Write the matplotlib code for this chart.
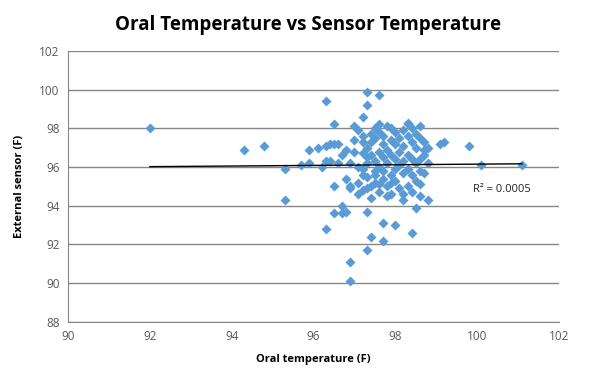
import matplotlib.pyplot as plt
import numpy as np

# oral temperature (F) vs external sensor reading (F)
oral = [
    92.0, 94.3, 94.8, 95.3, 95.3, 95.7, 95.9, 95.9, 96.1, 96.2,
    96.3, 96.3, 96.3, 96.4, 96.5, 96.6, 96.3, 96.4, 96.5, 96.5,
    96.5, 96.6, 96.7, 96.8, 96.7, 96.7, 96.8, 96.8, 96.9, 96.9,
    96.9, 96.9, 96.9, 97.0, 97.1, 97.2, 97.2, 97.2, 97.2, 97.3,
    97.3, 97.3, 97.3, 97.3, 97.4, 97.5, 97.5, 97.6, 97.6, 97.7,
    97.7, 97.9, 97.9, 98.0, 98.2, 98.2, 98.3, 98.3, 98.4, 98.5,
    98.8, 98.6, 98.7, 98.7, 98.5, 98.6, 99.1, 99.2, 99.8, 100.1,
    101.1,
    97.0, 97.0, 97.1, 97.1, 97.1, 97.2, 97.2, 97.2, 97.3, 97.3,
    97.3, 97.3, 97.4, 97.4, 97.4, 97.4, 97.4, 97.5, 97.5, 97.5,
    97.5, 97.6, 97.6, 97.6, 97.6, 97.6, 97.7, 97.7, 97.7, 97.7,
    97.7, 97.8, 97.8, 97.8, 97.8, 97.8, 97.9, 97.9, 97.9, 97.9,
    98.0, 98.0, 98.0, 98.0, 98.0, 98.1, 98.1, 98.1, 98.1, 98.2,
    98.2, 98.2, 98.2, 98.3, 98.3, 98.3, 98.3, 98.4, 98.4, 98.4,
    98.4, 98.4, 98.5, 98.5, 98.5, 98.6, 98.6, 98.6, 98.6, 98.7,
    98.7, 98.8, 98.8,
]
sensor = [
    98.0, 96.9, 97.1, 95.9, 94.3, 96.1, 96.2, 96.9, 97.0, 96.0,
    99.4, 92.8, 97.1, 97.2, 97.2, 97.2, 96.3, 96.3, 95.0, 93.6,
    98.2, 96.2, 96.6, 96.9, 94.0, 93.6, 93.7, 95.4, 95.0, 94.9,
    91.1, 90.1, 96.2, 98.1, 94.6, 95.6, 97.3, 97.6, 98.6, 96.5,
    93.7, 91.7, 99.2, 99.9, 92.4, 95.8, 95.2, 99.7, 98.2, 93.1,
    92.2, 95.2, 98.0, 93.0, 94.3, 94.6, 98.3, 98.2, 92.6, 93.9,
    94.3, 96.4, 96.9, 97.3, 97.7, 98.1, 97.2, 97.3, 97.1, 96.1,
    96.1,
    97.4, 96.8, 97.9, 96.0, 95.2, 96.7, 95.9, 94.8, 97.0, 96.2,
    95.5, 94.9, 97.7, 97.3, 96.6, 95.0, 94.4, 98.0, 97.5, 96.3,
    95.6, 97.8, 96.8, 96.0, 95.1, 94.7, 97.6, 97.2, 96.5, 95.8,
    95.4, 98.1, 96.9, 96.2, 95.0, 94.5, 97.4, 96.6, 95.6, 94.6,
    97.8, 97.2, 96.4, 95.9, 95.3, 97.5, 96.8, 96.1, 94.9, 97.9,
    97.1, 96.3, 95.7, 97.6, 96.6, 95.9, 95.0, 98.0, 97.3, 96.4,
    95.6, 94.7, 97.0, 96.2, 95.3, 97.5, 95.8, 95.1, 94.5, 96.6,
    95.7, 96.2, 97.0,
]
r2_label = "R² = 0.0005"

x = np.array(oral)
y = np.array(sensor)
slope, icpt = np.polyfit(x, y, 1)
xs = np.array([x.min(), x.max()])

plt.rcParams["font.family"] = ["Open Sans", "DejaVu Sans"]
fig = plt.figure(figsize=(5.92, 3.8), dpi=100)
ax = fig.add_axes([0.115, 0.153, 0.829, 0.713])

grid_c = "#868686"
text_c = "#595959"
ax.set_axisbelow(True)
ax.grid(axis="y", color=grid_c, lw=1)
ax.scatter(x, y, marker="D", s=26, color="#5B9BD5", lw=0, zorder=3)
ax.plot(xs, slope * xs + icpt, color="black", lw=1, zorder=4)
ax.text(99.9, 94.7, r2_label, fontsize=8, color="#222222")

ax.set_xlim(90, 102)
ax.set_ylim(88, 102)
ax.set_xticks(np.arange(90, 103, 2))
ax.set_yticks(np.arange(88, 103, 2))
ax.tick_params(length=0, labelsize=8.5, labelcolor=text_c, pad=6)
for s in ["top", "right"]:
    ax.spines[s].set_visible(False)
for s in ["left", "bottom"]:
    ax.spines[s].set_color(grid_c)

ax.set_xlabel("Oral temperature (F)", fontsize=8, fontweight="bold", labelpad=8)
ax.set_ylabel("External sensor (F)", fontsize=8, fontweight="bold", labelpad=10)
fig.text(0.52, 0.935, "Oral Temperature vs Sensor Temperature",
         ha="center", va="center", fontsize=13.5, fontweight="bold")

fig.savefig("out.png", dpi=100)
